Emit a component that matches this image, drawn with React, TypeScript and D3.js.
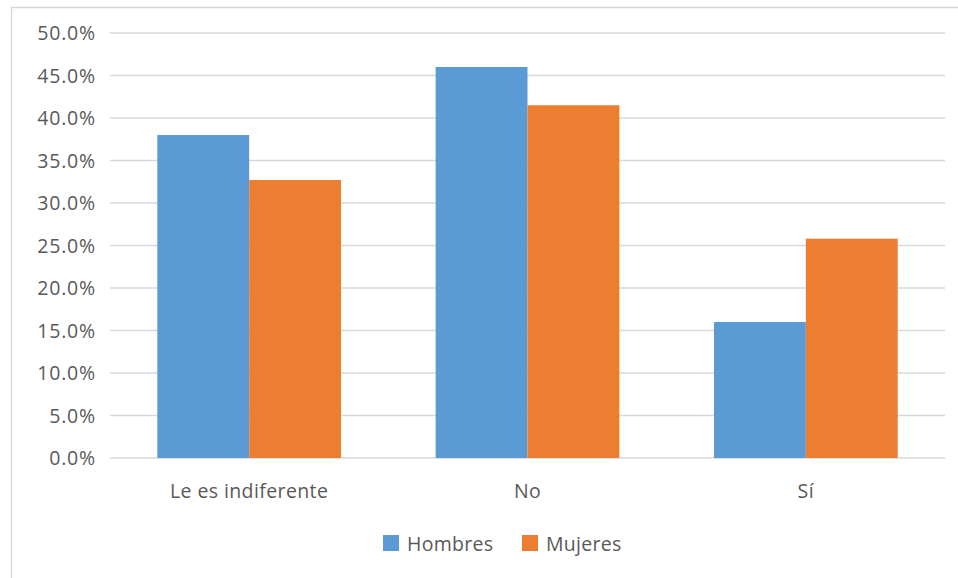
import React from "react";
import * as d3 from "d3";

const categories = ["Le es indiferente", "No", "Sí"];
const seriesNames = ["Hombres", "Mujeres"];
const hombres = [38.0, 46.0, 16.0];
const mujeres = [32.7, 41.5, 25.8];
const yTicks = [0, 5, 10, 15, 20, 25, 30, 35, 40, 45, 50];
const colors = ["#5B9BD5", "#ED7D31"];

export default function App() {
  const W = 958, H = 578;
  const left = 110, right = 945, top = 33, bottom = 458;
  const x = d3.scaleBand<string>().domain(categories).range([left, right]).paddingInner(0.34).paddingOuter(0.17);
  const xs = d3.scaleBand<string>().domain(seriesNames).range([0, x.bandwidth()]);
  const y = d3.scaleLinear().domain([0, 50]).range([bottom, top]);
  const series = [hombres, mujeres];
  const font = "'Open Sans', 'Noto Sans', sans-serif";
  return (
    <svg width={W} height={H} style={{ position: "absolute", left: 0, top: 0 }} fontFamily={font}>
      <rect x={0} y={0} width={W} height={H} fill="#fff" />
      <rect x={11.5} y={7.5} width={W + 20} height={H + 20} fill="none" stroke="#d9d9d9" strokeWidth={1.5} />
      {yTicks.map((t) => (
        <g key={t}>
          <line x1={left} x2={right} y1={y(t)} y2={y(t)} stroke="#d9d9d9" strokeWidth={1.5} />
          <text x={96} y={y(t)} dy="0.36em" textAnchor="end" fontSize={19.5} letterSpacing={0.8} fill="#595959">
            {d3.format(".1f")(t) + "%"}
          </text>
        </g>
      ))}
      {categories.map((c, i) => (
        <g key={c}>
          {series.map((s, j) => (
            <rect
              key={j}
              x={(x(c) as number) + (xs(seriesNames[j]) as number)}
              width={xs.bandwidth()}
              y={y(s[i])}
              height={bottom - y(s[i])}
              fill={colors[j]}
            />
          ))}
          <text x={(x(c) as number) + x.bandwidth() / 2} y={498} textAnchor="middle" fontSize={19.5} letterSpacing={0.4} fill="#595959">
            {c}
          </text>
        </g>
      ))}
      {seriesNames.map((n, j) => {
        const lx = [383, 522][j];
        return (
          <g key={n}>
            <rect x={lx} y={535} width={16} height={16} fill={colors[j]} />
            <text x={lx + 24} y={551} fontSize={19.5} letterSpacing={0.3} fill="#595959">{n}</text>
          </g>
        );
      })}
    </svg>
  );
}
